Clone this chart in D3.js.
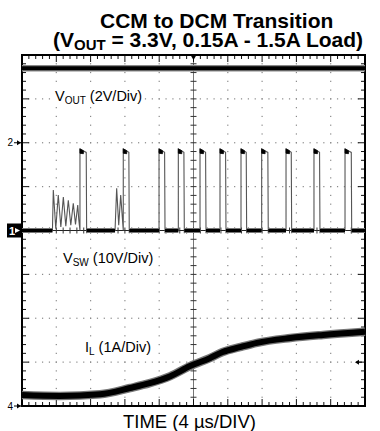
<!DOCTYPE html>
<html>
<head>
<meta charset="utf-8">
<script src="https://cdn.jsdelivr.net/npm/d3@7"></script>
<style>
  body { margin: 0; background: #fff; }
  svg { display: block; }
</style>
</head>
<body>
<div class="chart"></div>
<script>
var width = 380;
var height = 431;
var font = 'Liberation Sans, Arial, Helvetica, sans-serif';

/// screen: 10 x 8 divisions, 4 us per division
var timeDivs = d3.range(0, 11);
var voltDivs = d3.range(0, 9);
var usPerDiv = 4;

/// channel ground markers (division) and scale per division
var markerNames = ['2', '1', '4'];
var markerLevels = [6, 4, 0];
var voutOffset = 6, voutPerDiv = 2;
var vswOffset = 4, vswPerDiv = 10;
var ilOffset = 0, ilPerDiv = 1;

/// VOUT (V), flat
var voutTime = [0, 40];
var voutVolt = [3.4, 3.4];

/// VSW pulses (us) and high level (V)
var pulseRise = [6.76, 11.81, 15.98, 18.23, 20.76, 23.09, 25.54, 27.95, 30.79, 34.05, 37.67];
var pulseFall = [7.54, 12.51, 16.68, 18.93, 21.46, 23.79, 26.20, 28.72, 31.45, 34.75, 38.45];
var vswHigh = 18.1;
var vswPeak = 18.6;

/// ringing before the first two pulses
var ring1Time = [3.55, 3.65, 3.94, 4.23, 4.53, 4.82, 5.11, 5.40, 5.69, 5.98, 6.24, 6.50, 6.62];
var ring1Volt = [0, 9.2, 0.4, 8.1, 0.8, 7.6, 1.0, 6.9, 1.2, 6.2, 1.4, 5.8, 2.5];
var ring2Time = [10.85, 11.04, 11.28, 11.51, 11.70];
var ring2Volt = [0, 9.6, 1.2, 8.1, 3.0];

/// inductor current (A)
var ilTime = [0, 4.4, 9.1, 12.6, 14.9, 17.3, 19.6, 21.9, 23.4, 25.4, 27.4, 31.3, 35.1, 40];
var ilAmp = [0.25, 0.23, 0.27, 0.41, 0.52, 0.68, 0.91, 1.09, 1.23, 1.34, 1.44, 1.55, 1.62, 1.69];

var pLeft = 22, pRight = 365, pTop = 55, pBottom = 406;

var x = d3.scaleLinear().domain([0, 10 * usPerDiv]).range([pLeft, pRight]);
var y = d3.scaleLinear().domain([0, 8]).range([pBottom, pTop]);

var svg = d3.select('.chart').append('svg')
  .attr('width', width)
  .attr('height', height)
  .style('background', '#fff');

/// grid dots
var grid = svg.append('g');
var dx = (pRight - pLeft) / 50, dy = (pBottom - pTop) / 40;
voltDivs.slice(1, 8).forEach(function(k) {
  if (k === 4) return;
  d3.range(1, 50).forEach(function(j) {
    grid.append('rect')
      .attr('x', pLeft + j * dx - 0.6).attr('y', y(k) - 0.6)
      .attr('width', 1.2).attr('height', 1.2)
      .attr('fill', '#888');
  });
});
timeDivs.slice(1, 10).forEach(function(k) {
  if (k === 5) return;
  d3.range(1, 40).forEach(function(j) {
    grid.append('rect')
      .attr('x', x(k * usPerDiv) - 0.6).attr('y', pTop + j * dy - 0.6)
      .attr('width', 1.2).attr('height', 1.2)
      .attr('fill', '#888');
  });
});

/// center cross
var cx = x(5 * usPerDiv), cy = y(4);
grid.append('line').attr('x1', cx).attr('x2', cx).attr('y1', pTop).attr('y2', pBottom)
  .attr('stroke', '#666').attr('stroke-width', 0.9);
grid.append('line').attr('x1', pLeft).attr('x2', pRight).attr('y1', cy).attr('y2', cy)
  .attr('stroke', '#222').attr('stroke-width', 1);
d3.range(1, 40).forEach(function(j) {
  grid.append('line').attr('x1', cx - 3).attr('x2', cx + 3)
    .attr('y1', pTop + j * dy).attr('y2', pTop + j * dy)
    .attr('stroke', '#333').attr('stroke-width', 1);
});
d3.range(1, 50).forEach(function(j) {
  grid.append('line').attr('x1', pLeft + j * dx).attr('x2', pLeft + j * dx)
    .attr('y1', cy - 3).attr('y2', cy + 3)
    .attr('stroke', '#333').attr('stroke-width', 1);
});

/// frame ticks
d3.range(1, 50).forEach(function(j) {
  var len = (j % 5 === 0) ? 7 : 4;
  var px = pLeft + j * dx;
  grid.append('line').attr('x1', px).attr('x2', px).attr('y1', pTop).attr('y2', pTop + len)
    .attr('stroke', '#111').attr('stroke-width', 1);
  grid.append('line').attr('x1', px).attr('x2', px).attr('y1', pBottom).attr('y2', pBottom - len)
    .attr('stroke', '#111').attr('stroke-width', 1);
});
d3.range(1, 40).forEach(function(j) {
  var len = (j % 5 === 0) ? 7 : 4;
  var py = pTop + j * dy;
  grid.append('line').attr('x1', pLeft).attr('x2', pLeft + len).attr('y1', py).attr('y2', py)
    .attr('stroke', '#111').attr('stroke-width', 1);
  grid.append('line').attr('x1', pRight).attr('x2', pRight - len).attr('y1', py).attr('y2', py)
    .attr('stroke', '#111').attr('stroke-width', 1);
});

grid.append('rect')
  .attr('x', pLeft).attr('y', pTop)
  .attr('width', pRight - pLeft).attr('height', pBottom - pTop)
  .attr('fill', 'none').attr('stroke', '#000').attr('stroke-width', 2);

/// trigger marker
grid.append('path')
  .attr('d', 'M' + (cx - 3) + ',' + pTop + 'L' + (cx + 3) + ',' + pTop + 'L' + cx + ',' + (pTop + 5) + 'Z')
  .attr('fill', '#000');

/// labels with white background
function label(xp, yp, main, sub, rest) {
  var t = svg.append('text')
    .attr('x', xp).attr('y', yp)
    .attr('font-family', font).attr('font-size', '14.5px').attr('fill', '#000');
  t.append('tspan').text(main);
  t.append('tspan').attr('font-size', '10px').attr('dy', 3).text(sub);
  t.append('tspan').attr('dy', -3).text(rest);
  var b = t.node().getBBox();
  svg.insert('rect', function() { return t.node(); })
    .attr('x', b.x - 1).attr('y', b.y).attr('width', b.width + 2).attr('height', b.height)
    .attr('fill', '#fff');
}
label(55, 101, 'V', 'OUT', ' (2V/Div)');
label(63, 263, 'V', 'SW', ' (10V/Div)');
label(85, 352, 'I', 'L', ' (1A/Div)');

var traces = svg.append('g');

/// VOUT band (gray fuzz under a black core)
var voutLine = d3.line()
  .x(function(d) { return x(d[0]); })
  .y(function(d) { return y(voutOffset + d[1] / voutPerDiv); });
traces.append('path')
  .attr('d', voutLine(d3.zip(voutTime, voutVolt)))
  .attr('fill', 'none').attr('stroke', '#888').attr('stroke-width', 6.5);
traces.append('path')
  .attr('d', voutLine(d3.zip(voutTime, voutVolt)))
  .attr('fill', 'none').attr('stroke', '#000').attr('stroke-width', 4);

/// VSW trace
var vswLine = d3.line()
  .x(function(d) { return x(d[0]); })
  .y(function(d) { return y(vswOffset + d[1] / vswPerDiv); });

var vswPts = [[0, 0]];
d3.zip(ring1Time, ring1Volt).forEach(function(p) { vswPts.push(p); });
var bands = [[0, ring1Time[0]]];
var prevFall = 0;
pulseRise.forEach(function(tr, i) {
  var tf = pulseFall[i];
  if (i === 1) {
    bands.push([prevFall, ring2Time[0]]);
    d3.zip(ring2Time, ring2Volt).forEach(function(p) { vswPts.push(p); });
  } else if (i > 0) {
    bands.push([prevFall, tr]);
  }
  vswPts.push([tr, 0], [tr, vswPeak], [tr + 0.25, vswHigh + 0.2], [tf - 0.05, vswHigh - 0.3], [tf, -0.6], [tf + 0.1, 0]);
  prevFall = tf;
});
bands.push([prevFall, 40]);
vswPts.push([40, 0]);

traces.append('path')
  .attr('d', vswLine(vswPts))
  .attr('fill', 'none').attr('stroke', '#555').attr('stroke-width', 1.1);

bands.forEach(function(b) {
  traces.append('path')
    .attr('d', vswLine([[b[0], 0], [b[1], 0]]))
    .attr('stroke', '#777').attr('stroke-width', 5);
  traces.append('path')
    .attr('d', vswLine([[b[0], 0], [b[1], 0]]))
    .attr('stroke', '#000').attr('stroke-width', 3);
});
pulseRise.forEach(function(tr) {
  traces.append('path')
    .attr('d', vswLine([[tr, vswPeak], [tr + 0.4, vswHigh + 0.1], [tr + 0.4, vswHigh - 0.6], [tr, vswHigh - 0.5]]) + 'Z')
    .attr('fill', '#000').attr('stroke', '#000').attr('stroke-width', 0.8);
});

/// IL band
var ilLine = d3.line()
  .curve(d3.curveMonotoneX)
  .x(function(d) { return x(d[0]); })
  .y(function(d) { return y(ilOffset + d[1] / ilPerDiv); });
traces.append('path')
  .attr('d', ilLine(d3.zip(ilTime, ilAmp)))
  .attr('fill', 'none').attr('stroke', '#777').attr('stroke-width', 8.5);
traces.append('path')
  .attr('d', ilLine(d3.zip(ilTime, ilAmp)))
  .attr('fill', 'none').attr('stroke', '#000').attr('stroke-width', 6);

/// channel markers on the left
markerNames.forEach(function(name, i) {
  var py = y(markerLevels[i]);
  if (name === '1') {
    svg.append('rect').attr('x', 7).attr('y', py - 7).attr('width', 14).attr('height', 14).attr('fill', '#000');
    svg.append('text').attr('x', 12).attr('y', py + 4).attr('text-anchor', 'middle')
      .attr('font-family', font).attr('font-size', '11px').attr('font-weight', 'bold')
      .attr('fill', '#fff').text(name);
    svg.append('path').attr('d', 'M15,' + (py - 2.5) + 'L20,' + py + 'L15,' + (py + 2.5) + 'Z').attr('fill', '#fff');
  } else {
    svg.append('text').attr('x', 13).attr('y', py + 3.5).attr('text-anchor', 'end')
      .attr('font-family', font).attr('font-size', '10px').attr('fill', '#000').text(name);
    svg.append('line').attr('x1', 14).attr('x2', pLeft).attr('y1', py).attr('y2', py)
      .attr('stroke', '#000').attr('stroke-width', 1);
    svg.append('path').attr('d', 'M17,' + (py - 2.5) + 'L21,' + py + 'L17,' + (py + 2.5) + 'Z').attr('fill', '#000');
  }
});

/// small reference arrow on the right
var ry = y(1);
svg.append('line').attr('x1', pRight - 9).attr('x2', pRight - 3).attr('y1', ry).attr('y2', ry)
  .attr('stroke', '#000').attr('stroke-width', 1);
svg.append('path').attr('d', 'M' + (pRight - 10) + ',' + ry + 'L' + (pRight - 6) + ',' + (ry - 2.5) + 'L' + (pRight - 6) + ',' + (ry + 2.5) + 'Z')
  .attr('fill', '#000');

/// titles
svg.append('text')
  .attr('x', 100).attr('y', 27.5)
  .attr('font-family', font).attr('font-size', '21px').attr('font-weight', 'bold')
  .text('CCM to DCM Transition');

var t2 = svg.append('text')
  .attr('x', 53).attr('y', 47)
  .attr('font-family', font).attr('font-size', '21px').attr('font-weight', 'bold');
t2.append('tspan').text('(V');
t2.append('tspan').attr('font-size', '15px').attr('dy', 3).text('OUT');
t2.append('tspan').attr('dy', -3).text(' = 3.3V, 0.15A - 1.5A Load)');

svg.append('text')
  .attr('x', 123).attr('y', 428)
  .attr('font-family', font).attr('font-size', '18.5px')
  .text('TIME (4 \u00b5s/DIV)');
</script>
</body>
</html>
